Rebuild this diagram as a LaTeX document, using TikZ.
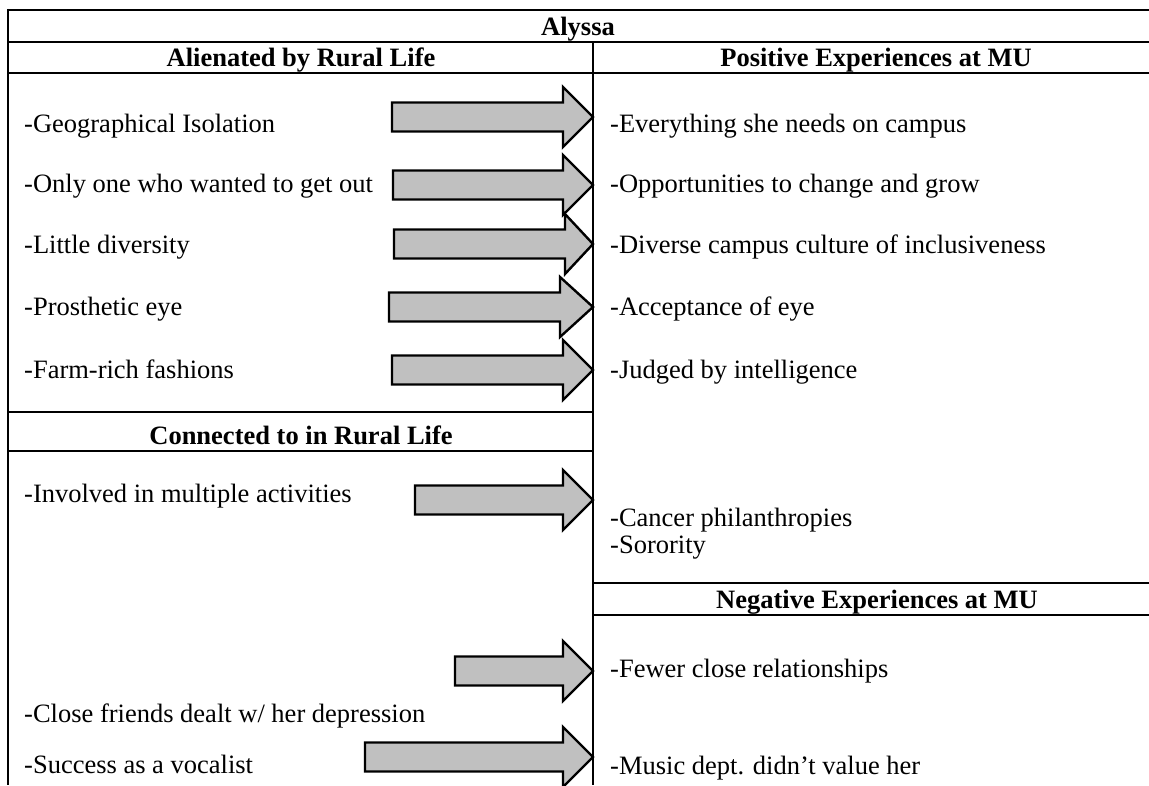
\documentclass[tikz,border=0pt]{standalone}
\usepackage{fontspec}
\setmainfont{Liberation Serif}
\begin{document}
\begin{tikzpicture}[x=1pt,y=-1pt,
  grid/.style={line width=2.4pt},
  fatarrow/.style={draw=black,fill=arrowgray,line width=2.4pt,line join=miter},
  txt/.style={anchor=base west,inner sep=0pt,font=\fontsize{26.5}{30}\selectfont},
  hdr/.style={anchor=base,inner sep=0pt,font=\fontsize{26.5}{30}\selectfont\bfseries}]
\definecolor{arrowgray}{RGB}{192,192,192}
\useasboundingbox (0,0) rectangle (1149,785);
% arrow: #1 left x, #2 centre y, #3 head start x
\newcommand\bigarrow[3]{%
  \draw[fatarrow] (#1,#2-14.5) -- (#3,#2-14.5) -- (#3,#2-30) -- (593,#2)
    -- (#3,#2+30) -- (#3,#2+14.5) -- (#1,#2+14.5) -- cycle;}
% grid lines
\draw[grid] (8,10) -- (1149,10);
\draw[grid] (8,42) -- (1149,42);
\draw[grid] (8,73) -- (1149,73);
\draw[grid] (8,8.8) -- (8,785);
\draw[grid] (593,42) -- (593,785);
\draw[grid] (8,412) -- (593,412);
\draw[grid] (8,451) -- (593,451);
\draw[grid] (593,583) -- (1149,583);
\draw[grid] (593,615) -- (1149,615);
% headers
\node[hdr] (title) at (578,35) {Alyssa};
\node[hdr] (h1) at (301,66) {Alienated by Rural Life};
\node[hdr] (h2) at (876,66) {Positive Experiences at MU};
\node[hdr] (h3) at (301,444) {Connected to in Rural Life};
\node[hdr] (h4) at (877,608) {Negative Experiences at MU};
% arrows
\bigarrow{392}{117}{563}
\bigarrow{393}{185}{563}
\bigarrow{394}{244}{565}
\bigarrow{389}{307}{560}
\bigarrow{392}{370}{563}
\bigarrow{415}{500}{563}
\bigarrow{455}{671}{563}
\bigarrow{365}{757}{563}
% left texts
\node[txt] (l1) at (24,132) {-Geographical Isolation};
\node[txt] (l2) at (24,192) {-Only one who wanted to get out};
\node[txt] (l3) at (24,253) {-Little diversity};
\node[txt] (l4) at (24,315) {-Prosthetic eye};
\node[txt] (l5) at (24,378) {-Farm-rich fashions};
\node[txt] (l6) at (24,502) {-Involved in multiple activities};
\node[txt] (l7) at (24,722) {-Close friends dealt w/ her depression};
\node[txt] (l8) at (24,773) {-Success as a vocalist};
% right texts
\node[txt] (r1) at (610,132) {-Everything she needs on campus};
\node[txt] (r2) at (610,192) {-Opportunities to change and grow};
\node[txt] (r3) at (610,253) {-Diverse campus culture of inclusiveness};
\node[txt] (r4) at (610,315) {-Acceptance of eye};
\node[txt] (r5) at (610,378) {-Judged by intelligence};
\node[txt] (r6) at (610,526) {-Cancer philanthropies};
\node[txt] (r7) at (610,553) {-Sorority};
\node[txt] (r8) at (610,677) {-Fewer close relationships};
\node[txt] (r9) at (610,774) {-Music dept. didn't value her};
\end{tikzpicture}
\end{document}
